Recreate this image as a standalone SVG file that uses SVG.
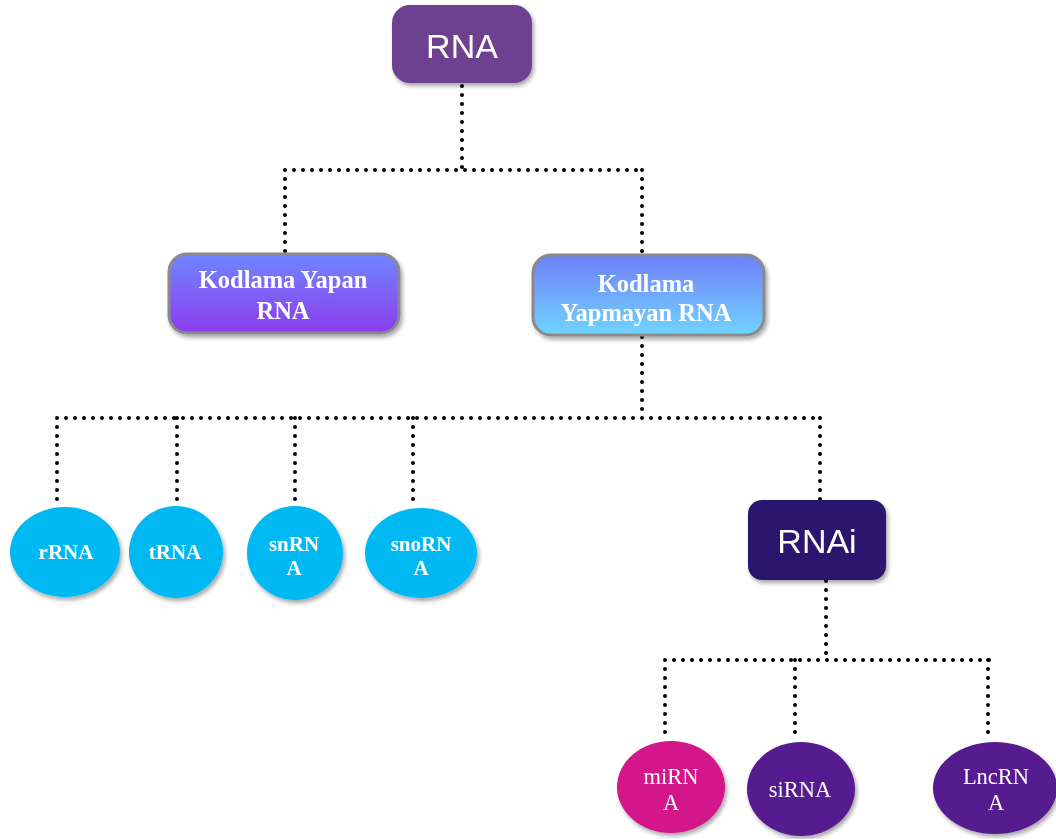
<svg xmlns="http://www.w3.org/2000/svg" width="1056" height="839" viewBox="0 0 1056 839">
<defs>
<linearGradient id="g1" x1="0" y1="0" x2="0" y2="1"><stop offset="0" stop-color="#6f86ff"/><stop offset="1" stop-color="#8c3ced"/></linearGradient>
<linearGradient id="g2" x1="0" y1="0" x2="0" y2="1"><stop offset="0" stop-color="#6e7ff8"/><stop offset="1" stop-color="#70d4ff"/></linearGradient>
<filter id="sh" x="-20%" y="-20%" width="140%" height="140%"><feDropShadow dx="2" dy="3" stdDeviation="2" flood-color="#000" flood-opacity="0.35"/></filter>
</defs>
<style>
.con{fill:none;stroke:#000;stroke-width:4;stroke-linecap:round;stroke-dasharray:0 9}
.sans{font-family:"Liberation Sans",Arial,sans-serif;fill:#fff;text-anchor:middle}
.ser{font-family:"Liberation Serif","Times New Roman",serif;fill:#fff;text-anchor:middle;font-size:21px}
.big{font-size:24.5px}
.mid{font-size:22.5px}
.b{font-weight:bold}
.blue{fill:#00b9f2}
</style>
<rect width="1056" height="839" fill="#fff"/>
<g id="connectors">
<path class="con" d="M462 86V170M285 170H642M285 170V252M642 170V255"/>
<path class="con" d="M642 337V418M57 418H820M57 418V503M177 418V504M295 418V504M413 418V504M820 418V500"/>
<path class="con" d="M826 581V660M665 660H990M665 660V741M795 660V741M988 660V741"/>
</g>
<g id="rna" filter="url(#sh)">
<rect x="392" y="5" width="140" height="78" rx="18" fill="#6e4190"/>
<text class="sans" x="462" y="58" font-size="34">RNA</text>
</g>
<g id="kodlama-yapan" filter="url(#sh)">
<rect x="169" y="254" width="230" height="79" rx="18" fill="url(#g1)" stroke="#8a8a8a" stroke-width="3"/>
<text class="ser b big" x="283" y="288">Kodlama Yapan</text>
<text class="ser b big" x="283" y="319">RNA</text>
</g>
<g id="kodlama-yapmayan" filter="url(#sh)">
<rect x="533" y="255" width="231" height="80" rx="18" fill="url(#g2)" stroke="#8a8a8a" stroke-width="3"/>
<text class="ser b big" x="646" y="292">Kodlama</text>
<text class="ser b big" x="646" y="321">Yapmayan RNA</text>
</g>
<g id="rrna" filter="url(#sh)">
<ellipse class="blue" cx="65" cy="552" rx="55" ry="45"/>
<text class="ser b" x="66" y="559">rRNA</text>
</g>
<g id="trna" filter="url(#sh)">
<ellipse class="blue" cx="176" cy="552" rx="47" ry="46"/>
<text class="ser b" x="175" y="559">tRNA</text>
</g>
<g id="snrna" filter="url(#sh)">
<ellipse class="blue" cx="295" cy="553" rx="48" ry="47"/>
<text class="ser b" x="294" y="551">snRN</text>
<text class="ser b" x="294" y="575">A</text>
</g>
<g id="snorna" filter="url(#sh)">
<ellipse class="blue" cx="421" cy="553" rx="56" ry="45"/>
<text class="ser b" x="421" y="551">snoRN</text>
<text class="ser b" x="421" y="575">A</text>
</g>
<g id="rnai" filter="url(#sh)">
<rect x="748" y="500" width="138" height="80" rx="14" fill="#2c196e"/>
<text class="sans" x="817" y="553" font-size="34">RNAi</text>
</g>
<g id="mirna" filter="url(#sh)">
<ellipse cx="671" cy="787" rx="54" ry="46" fill="#d3148a"/>
<text class="ser mid" x="671" y="784">miRN</text>
<text class="ser mid" x="671" y="810">A</text>
</g>
<g id="sirna" filter="url(#sh)">
<ellipse cx="801" cy="789" rx="54" ry="47" fill="#561b8f"/>
<text class="ser mid" x="800" y="797">siRNA</text>
</g>
<g id="lncrna" filter="url(#sh)">
<ellipse cx="995" cy="788" rx="62" ry="46" fill="#561b8f"/>
<text class="ser mid" x="996" y="784">LncRN</text>
<text class="ser mid" x="996" y="810">A</text>
</g>
</svg>
